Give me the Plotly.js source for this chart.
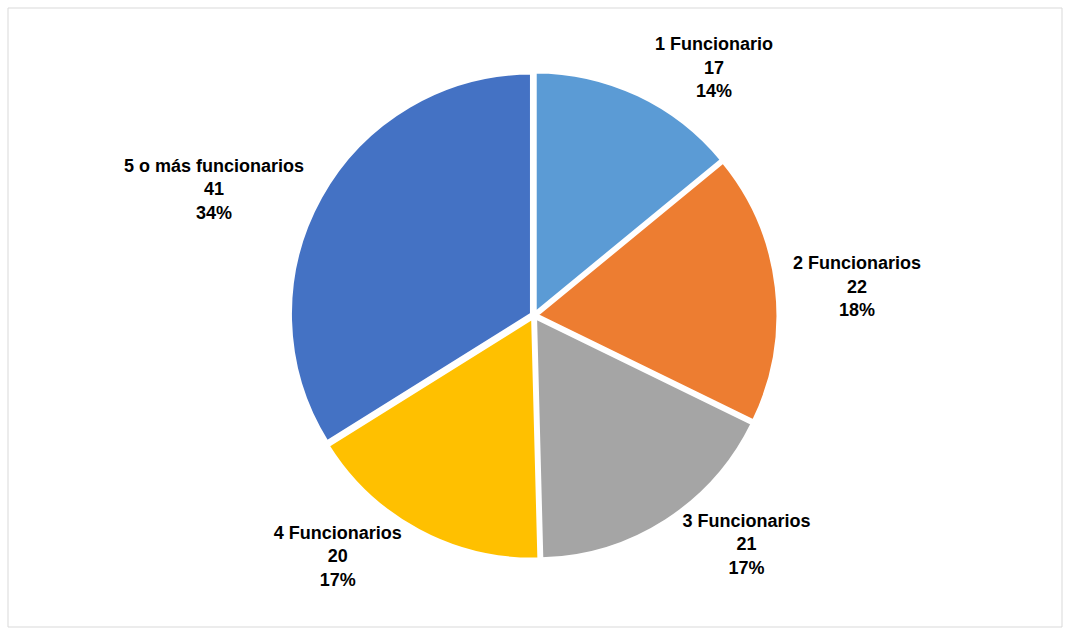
<!DOCTYPE html>
<html>
<head>
<meta charset="utf-8">
<script src="https://cdn.plot.ly/plotly-3.0.1.min.js"></script>
<style>
  html, body { margin: 0; padding: 0; background: #fff; }
  #chart { width: 1074px; height: 637px; }
</style>
</head>
<body>
<div id="chart"></div>
<script>
var categories = ["1 Funcionario", "2 Funcionarios", "3 Funcionarios", "4 Funcionarios", "5 o más funcionarios"];
var counts = [17, 22, 21, 20, 41];
var sliceColors = ["#5B9BD5", "#ED7D31", "#A5A5A5", "#FFC000", "#4472C4"];

var trace = {
    type: 'pie',
    labels: categories,
    values: counts,
    sort: false,
    direction: 'clockwise',
    rotation: 0,
    pull: 0.012,
    marker: {
        colors: sliceColors,
        line: { color: '#ffffff', width: 3 }
    },
    textposition: 'outside',
    texttemplate: '%{label}<br>%{value}<br>%{percent:.0%}',
    outsidetextfont: { family: 'Liberation Sans, Arial, sans-serif', size: 18, color: '#000000', weight: 'bold' },
    hoverinfo: 'none',
    domain: { x: [0.0972, 0.8972], y: [0.1218, 0.8876] },
    automargin: false
};

var layout = {
    width: 1074,
    height: 637,
    margin: { l: 0, r: 0, t: 0, b: 0 },
    showlegend: false,
    paper_bgcolor: '#ffffff',
    font: { family: 'Liberation Sans, Arial, sans-serif' },
    shapes: [{
        type: 'rect', xref: 'paper', yref: 'paper',
        x0: 8 / 1074, x1: 1062 / 1074, y0: 1 - 627 / 637, y1: 1 - 8 / 637,
        line: { color: '#d9d9d9', width: 1 }
    }]
};

Plotly.newPlot('chart', [trace], layout, { displayModeBar: false, staticPlot: true });
</script>
</body>
</html>
